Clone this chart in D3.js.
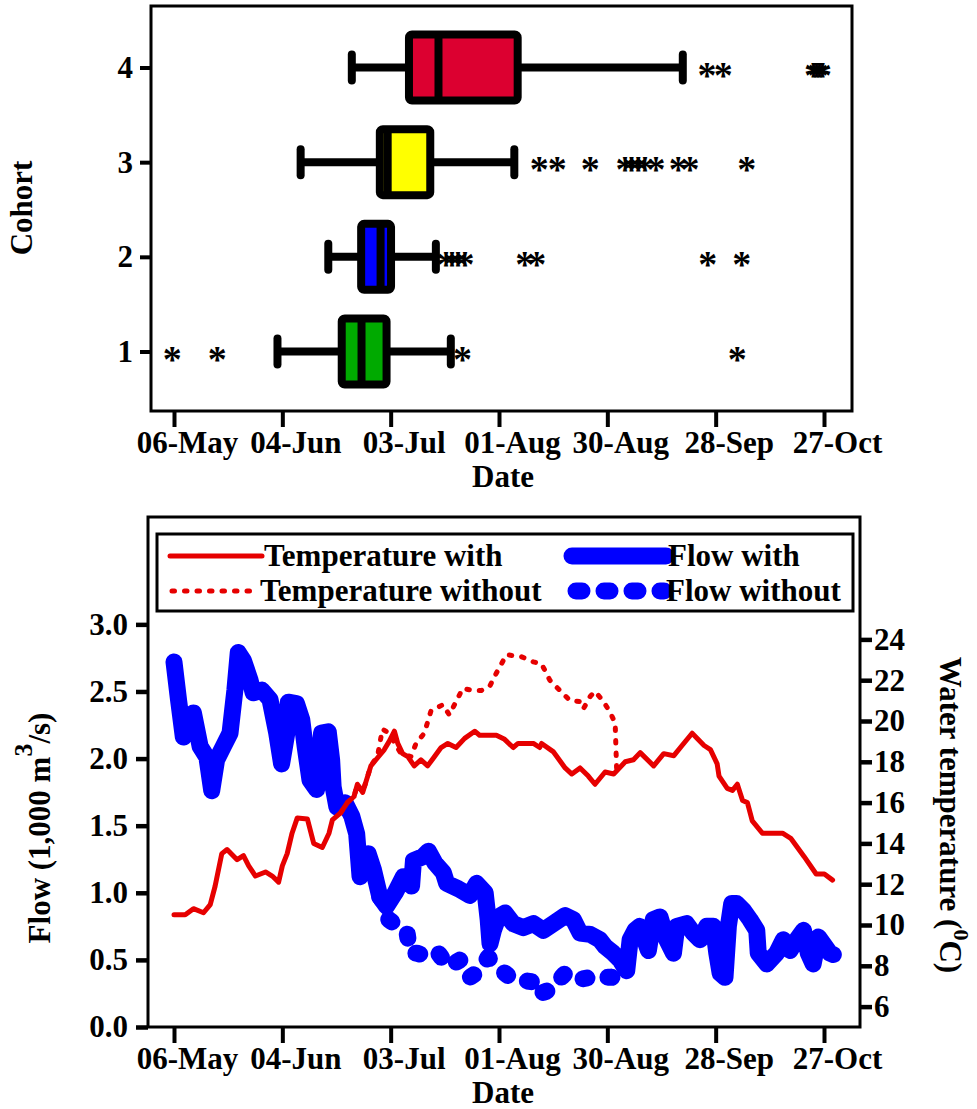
<!DOCTYPE html>
<html>
<head>
<meta charset="utf-8">
<script src="https://cdn.jsdelivr.net/npm/d3@7"></script>
<style>
  body { margin: 0; background: #fff; }
  text { font-family: "Liberation Serif", "Times New Roman", serif; font-weight: bold; fill: #000; }
</style>
</head>
<body>
<svg id="chart" width="977" height="1109"></svg>
<script>
// ---- data (days counted from 06-May) ----
const dateTicks = [0, 29, 58, 87, 116, 145, 174];
const dateLabels = ["06-May", "04-Jun", "03-Jul", "01-Aug", "30-Aug", "28-Sep", "27-Oct"];

const cohorts = [1, 2, 3, 4];
const boxColors = ["#00aa00", "#0000ff", "#ffff00", "#dc0030"];
const whiskerLow = [27.7, 41.3, 33.9, 47.6];
const q1 = [44.9, 50.1, 55.1, 62.9];
const medians = [50.2, 55.3, 57.2, 70.8];
const q3 = [56.9, 58.1, 68.6, 92.0];
const whiskerHigh = [74.1, 70.1, 91.1, 136.2];
const outliers = [
  [-0.5, 11.6, 77.2, 150.8],
  [72.8, 74.4, 76.0, 77.9, 93.9, 97.1, 142.9, 152.0],
  [97.8, 102.6, 111.4, 120.7, 122.5, 124.3, 126.1, 129.0, 135.0, 138.1, 153.3],
  [142.7, 147.0, 171.2, 172.0, 172.8, 173.6]
];

const flowTicks = [0, 0.5, 1.0, 1.5, 2.0, 2.5, 3.0];
const tempTicks = [6, 8, 10, 12, 14, 16, 18, 20, 22, 24];

const tempWith = [
  [0, 10.5], [3.0, 10.5], [5.2, 10.8], [7.9, 10.6], [9.7, 11.0], [11.0, 11.9], [12.8, 13.5],
  [14.2, 13.7], [16.9, 13.2], [18.6, 13.4], [20.0, 12.9], [21.8, 12.4], [24.5, 12.6], [26.3, 12.4],
  [28.0, 12.1], [29.0, 12.9], [30.3, 13.5], [31.6, 14.5], [33.0, 15.25], [35.7, 15.2], [37.4, 14.0],
  [39.7, 13.8], [41.5, 14.5], [42.4, 15.15], [44.6, 15.5], [46.4, 16.0], [48.2, 16.3], [49.1, 16.9],
  [50.5, 16.5], [52.7, 17.8], [54.5, 18.2], [56.3, 18.6], [57.6, 19.0], [59.0, 19.5], [59.9, 18.9],
  [61.2, 18.4], [62.6, 18.25], [64.3, 17.8], [66.1, 18.1], [67.9, 17.8], [69.7, 18.25], [71.5, 18.7],
  [73.3, 18.9], [75.5, 18.7], [77.8, 19.15], [80.5, 19.5], [81.8, 19.3], [86.3, 19.3], [88.5, 19.1],
  [90.8, 18.7], [92.1, 18.9], [96.2, 18.9], [97.9, 18.7], [98.4, 18.9], [101.5, 18.5], [104.7, 17.7],
  [106.5, 17.4], [108.7, 17.7], [110.9, 17.3], [112.7, 16.9], [115.4, 17.5], [117.7, 17.4],
  [120.8, 18.0], [123.0, 18.1], [124.8, 18.45], [128.4, 17.8], [131.1, 18.4], [133.8, 18.3],
  [136.0, 18.8], [138.7, 19.4], [141.9, 18.8], [143.6, 18.6], [145.4, 17.9], [145.9, 17.3],
  [148.1, 16.7], [149.5, 16.6], [150.8, 16.9], [152.2, 16.1], [153.5, 16.0], [154.8, 15.1],
  [157.5, 14.5], [162.9, 14.5], [165.1, 14.25], [166.9, 13.8], [168.7, 13.35], [171.9, 12.5],
  [174.1, 12.5], [176.3, 12.2]
];

const tempWithout = [
  [44.6, 15.5], [46.4, 16.0], [48.2, 16.3], [49.1, 16.9], [50.5, 16.5], [52.7, 17.8], [54.5, 18.3],
  [55.8, 19.6], [57.6, 19.4], [59.4, 18.8], [60.8, 18.4], [63.4, 18.25], [64.8, 18.9], [67.0, 19.4],
  [68.8, 20.5], [72.0, 20.8], [73.7, 20.3], [75.5, 20.95], [77.3, 21.6], [80.0, 21.5], [82.3, 21.5],
  [84.5, 21.7], [86.3, 22.35], [89.0, 23.25], [93.0, 23.15], [96.2, 22.9], [98.4, 22.8], [100.6, 22.0],
  [103.3, 21.5], [106.0, 21.0], [108.7, 20.95], [109.6, 20.6], [111.4, 21.2], [112.7, 21.45],
  [115.0, 20.95], [116.8, 20.4], [118.1, 19.9], [118.3, 18.7], [118.5, 17.6]
];

const flowWith = [
  [0, 2.72], [1.2, 2.44], [2.5, 2.16], [5.2, 2.34], [7.0, 2.09], [8.8, 2.01], [10.1, 1.76],
  [11.4, 1.99], [13.2, 2.09], [15.0, 2.19], [16.3, 2.51], [17.2, 2.79], [18.6, 2.73], [20.3, 2.59],
  [21.2, 2.49], [23.5, 2.51], [25.7, 2.44], [27.5, 2.19], [28.8, 1.96], [30.2, 2.19], [30.6, 2.42],
  [32.8, 2.41], [34.2, 2.29], [35.1, 2.09], [36.4, 1.84], [38.2, 1.77], [39.5, 2.19], [41.3, 2.20],
  [42.2, 1.99], [42.6, 1.79], [43.6, 1.64], [45.8, 1.67], [47.6, 1.57], [48.9, 1.44], [49.8, 1.12],
  [52.0, 1.29], [53.4, 1.17], [55.1, 0.97], [56.9, 0.90], [59.2, 1.00], [61.4, 1.12], [63.6, 1.05],
  [64.1, 1.24], [66.7, 1.27], [68.1, 1.31], [69.9, 1.22], [72.1, 1.15], [73.0, 1.07], [76.1, 1.03],
  [79.2, 0.98], [81.0, 1.07], [83.3, 1.00], [84.1, 0.80], [84.6, 0.62], [85.5, 0.72], [86.8, 0.82],
  [88.6, 0.85], [90.8, 0.77], [93.5, 0.74], [96.2, 0.77], [98.9, 0.72], [101.5, 0.77], [104.7, 0.83],
  [106.9, 0.80], [108.7, 0.70], [111.4, 0.69], [114.0, 0.65], [115.4, 0.60], [117.6, 0.55],
  [119.4, 0.50], [121.2, 0.42], [122.1, 0.65], [123.4, 0.72], [124.7, 0.75], [127.0, 0.57],
  [128.3, 0.80], [130.1, 0.82], [131.9, 0.65], [133.7, 0.55], [134.6, 0.75], [137.2, 0.77],
  [139.0, 0.70], [140.8, 0.65], [142.6, 0.75], [144.4, 0.75], [145.3, 0.55], [146.2, 0.40],
  [147.5, 0.37], [148.4, 0.75], [149.3, 0.92], [150.6, 0.92], [152.4, 0.87], [154.2, 0.80],
  [156.0, 0.72], [156.4, 0.55], [158.7, 0.47], [161.3, 0.55], [163.1, 0.65], [164.9, 0.57],
  [166.7, 0.65], [168.5, 0.72], [169.8, 0.55], [171.1, 0.47], [172.5, 0.67], [173.8, 0.62],
  [175.6, 0.55], [176.5, 0.54]
];

const flowWithout = [
  [55.1, 0.97], [56.9, 0.90], [57.5, 0.80], [60.0, 0.75], [62.3, 0.72], [63.2, 0.55], [65.0, 0.55],
  [68.5, 0.52], [70.8, 0.55], [73.4, 0.45], [76.6, 0.50], [79.2, 0.37], [81.9, 0.42], [84.1, 0.52],
  [86.4, 0.45], [90.4, 0.36], [97.5, 0.33], [98.0, 0.25], [101.1, 0.28], [102.4, 0.33], [104.7, 0.40],
  [107.8, 0.35], [111.4, 0.37], [114.9, 0.37], [117.2, 0.37], [119.4, 0.40], [121.2, 0.42]
];

const legendItems = [
  { label: "Temperature with", color: "#e60000", width: 5, dash: null },
  { label: "Flow with", color: "#0000ff", width: 17, dash: null },
  { label: "Temperature without", color: "#e60000", width: 5, dash: "2.5,10" },
  { label: "Flow without", color: "#0000ff", width: 17, dash: "6,22" }
];

// ---- drawing ----
const svg = d3.select("#chart");
const FS = 31;

function styleAxis(g, w) {
  g.select(".domain").remove();
  g.selectAll(".tick line").attr("stroke", "#000").attr("stroke-width", w);
  g.selectAll(".tick text").attr("font-size", FS)
    .style("font-family", '"Liberation Serif","Times New Roman",serif').style("font-weight", "bold");
}

// ===== top panel: box plots =====
const xTop = d3.scaleLinear().domain([0, 174]).range([174, 824]);
const yCohort = d3.scaleLinear().domain([1, 4]).range([351.5, 67.5]);

const topG = svg.append("g");

topG.append("g").attr("transform", "translate(0,411)")
  .call(d3.axisBottom(xTop).tickValues(dateTicks).tickFormat((d, i) => dateLabels[i]).tickSize(16).tickPadding(4))
  .call(g => styleAxis(g, 4))
  .call(g => g.selectAll(".tick text").attr("dx", 13));

topG.append("g").attr("transform", "translate(151,0)")
  .call(d3.axisLeft(yCohort).tickValues(cohorts).tickFormat(d3.format("d")).tickSize(11).tickPadding(7))
  .call(g => styleAxis(g, 4));

topG.append("rect").attr("x", 151).attr("y", 6).attr("width", 701).attr("height", 405)
  .attr("fill", "none").attr("stroke", "#000").attr("stroke-width", 3);

const boxes = topG.selectAll("g.box").data(cohorts).join("g").attr("class", "box");
boxes.each(function (c, i) {
  const g = d3.select(this);
  const yc = yCohort(c);
  g.append("line").attr("x1", xTop(whiskerLow[i])).attr("x2", xTop(q1[i]))
    .attr("y1", yc).attr("y2", yc).attr("stroke", "#000").attr("stroke-width", 8);
  g.append("line").attr("x1", xTop(q3[i])).attr("x2", xTop(whiskerHigh[i]))
    .attr("y1", yc).attr("y2", yc).attr("stroke", "#000").attr("stroke-width", 8);
  [whiskerLow[i], whiskerHigh[i]].forEach(v => {
    g.append("line").attr("x1", xTop(v)).attr("x2", xTop(v))
      .attr("y1", yc - 13).attr("y2", yc + 13)
      .attr("stroke", "#000").attr("stroke-width", 8).attr("stroke-linecap", "round");
  });
  g.append("rect").attr("x", xTop(q1[i])).attr("width", xTop(q3[i]) - xTop(q1[i]))
    .attr("y", yc - 33).attr("height", 66).attr("rx", 3)
    .attr("fill", boxColors[i]).attr("stroke", "#000").attr("stroke-width", 8);
  g.append("line").attr("x1", xTop(medians[i])).attr("x2", xTop(medians[i]))
    .attr("y1", yc - 33).attr("y2", yc + 33).attr("stroke", "#000").attr("stroke-width", 8);
  g.selectAll("text.out").data(outliers[i]).join("text").attr("class", "out")
    .attr("x", d => xTop(d)).attr("y", yc + 2 + 0.48 * 38)
    .attr("text-anchor", "middle").attr("font-size", 38).text("*");
});

topG.append("text").attr("transform", "translate(32,208) rotate(-90)")
  .attr("text-anchor", "middle").attr("font-size", FS).text("Cohort");
topG.append("text").attr("x", 503).attr("y", 487)
  .attr("text-anchor", "middle").attr("font-size", FS).text("Date");

// ===== bottom panel: flow and temperature =====
const xBot = d3.scaleLinear().domain([0, 174]).range([174, 824]);
const yFlow = d3.scaleLinear().domain([0, 3.8]).range([1027, 517]);
const yTemp = d3.scaleLinear().domain([5, 30]).range([1027, 517]);

const bot = svg.append("g");

bot.append("g").attr("transform", "translate(0,1027)")
  .call(d3.axisBottom(xBot).tickValues(dateTicks).tickFormat((d, i) => dateLabels[i]).tickSize(16).tickPadding(4))
  .call(g => styleAxis(g, 4))
  .call(g => g.selectAll(".tick text").attr("dx", 13));

bot.append("g").attr("transform", "translate(148,0)")
  .call(d3.axisLeft(yFlow).tickValues(flowTicks).tickFormat(d3.format(".1f")).tickSize(12).tickPadding(8))
  .call(g => styleAxis(g, 4.5));

bot.append("g").attr("transform", "translate(860,0)")
  .call(d3.axisRight(yTemp).tickValues(tempTicks).tickFormat(d3.format("d")).tickSize(12).tickPadding(2))
  .call(g => styleAxis(g, 4.5));

bot.append("rect").attr("x", 148).attr("y", 517).attr("width", 712).attr("height", 510)
  .attr("fill", "none").attr("stroke", "#000").attr("stroke-width", 3);

const flowLine = d3.line().x(d => xBot(d[0])).y(d => yFlow(d[1]));
const tempLine = d3.line().x(d => xBot(d[0])).y(d => yTemp(d[1]));

bot.append("path").datum(flowWithout).attr("d", flowLine)
  .attr("fill", "none").attr("stroke", "#0000ff").attr("stroke-width", 17)
  .attr("stroke-linecap", "round").attr("stroke-linejoin", "round").attr("stroke-dasharray", "4,21");
bot.append("path").datum(flowWith).attr("d", flowLine)
  .attr("fill", "none").attr("stroke", "#0000ff").attr("stroke-width", 17)
  .attr("stroke-linecap", "round").attr("stroke-linejoin", "round");
bot.append("path").datum(tempWithout).attr("d", tempLine)
  .attr("fill", "none").attr("stroke", "#e60000").attr("stroke-width", 5)
  .attr("stroke-linecap", "round").attr("stroke-linejoin", "round").attr("stroke-dasharray", "2.5,10");
bot.append("path").datum(tempWith).attr("d", tempLine)
  .attr("fill", "none").attr("stroke", "#e60000").attr("stroke-width", 5)
  .attr("stroke-linecap", "round").attr("stroke-linejoin", "round");

// legend
const leg = bot.append("g");
leg.append("rect").attr("x", 157).attr("y", 534).attr("width", 696).attr("height", 77)
  .attr("fill", "#fff").attr("stroke", "#000").attr("stroke-width", 3);
const legPos = [[170, 262, 556], [572, 666, 556], [172, 258, 591], [576, 664, 591]];
legendItems.forEach((it, i) => {
  const [x1, x2, yy] = legPos[i];
  leg.append("line").attr("x1", x1).attr("x2", x2).attr("y1", yy).attr("y2", yy)
    .attr("stroke", it.color).attr("stroke-width", it.width).attr("stroke-linecap", "round")
    .attr("stroke-dasharray", it.dash);
  leg.append("text").attr("x", x2 + 2).attr("y", yy + 10).attr("font-size", FS).text(it.label);
});

// axis titles
bot.append("text").attr("x", 503).attr("y", 1103).attr("text-anchor", "middle").attr("font-size", FS).text("Date");

const fl = bot.append("text").attr("transform", "translate(50,828) rotate(-90)")
  .attr("text-anchor", "middle").attr("font-size", FS);
fl.append("tspan").text("Flow (1,000 m");
fl.append("tspan").attr("font-size", 26).attr("dy", -18).text("3");
fl.append("tspan").attr("dy", 18).text("/s)");

const tl = bot.append("text").attr("transform", "translate(940,815) rotate(90)")
  .attr("text-anchor", "middle").attr("font-size", FS);
tl.append("tspan").text("Water temperature (");
tl.append("tspan").attr("font-size", 22).attr("dy", -14).text("0");
tl.append("tspan").attr("dy", 14).text("C)");
</script>
</body>
</html>
